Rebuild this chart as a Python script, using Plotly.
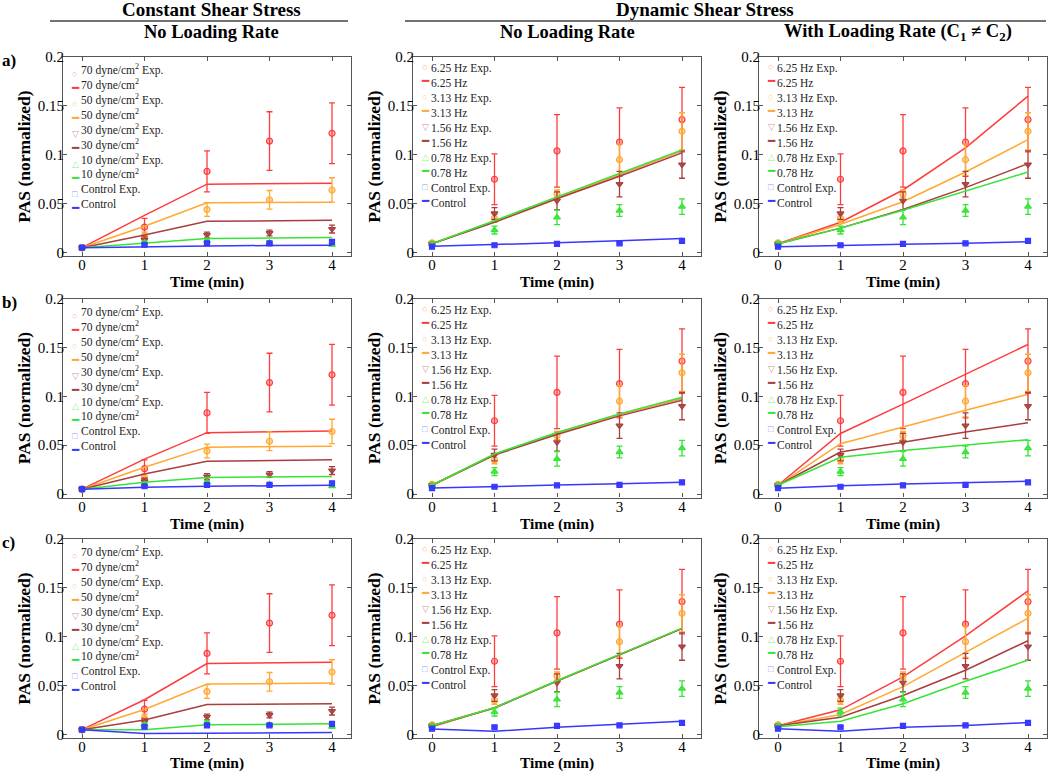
import plotly.graph_objects as go

# ---------------- data ----------------
time = [0, 1, 2, 3, 4]

const_names = ["70 dyne/cm<sup>2</sup>", "50 dyne/cm<sup>2</sup>", "30 dyne/cm<sup>2</sup>",
               "10 dyne/cm<sup>2</sup>", "Control"]
dyn_names = ["6.25 Hz", "3.13 Hz", "1.56 Hz", "0.78 Hz", "Control"]

# constant shear stress experiments (mean, error)
exp_c70 = [0.005, 0.026, 0.083, 0.114, 0.122]
err_c70 = [0.001, 0.009, 0.021, 0.030, 0.031]
exp_c50 = [0.005, 0.017, 0.044, 0.054, 0.064]
err_c50 = [0.001, 0.004, 0.007, 0.0095, 0.0125]
exp_c30 = [0.005, 0.013, 0.018, 0.020, 0.024]
err_c30 = [0.001, 0.003, 0.003, 0.003, 0.004]
exp_c10 = [0.005, 0.010, 0.012, 0.010, 0.008]
err_c10 = [0.001, 0.002, 0.002, 0.001, 0.001]
exp_cctl = [0.005, 0.008, 0.0095, 0.0095, 0.011]
err_cctl = [0.001, 0.0015, 0.0015, 0.0012, 0.0015]

# dynamic shear stress experiments (mean, error)
exp_d625 = [0.009, 0.075, 0.104, 0.113, 0.136]
err_d625 = [0.001, 0.026, 0.037, 0.035, 0.033]
exp_d313 = [0.010, 0.035, 0.060, 0.095, 0.124]
err_d313 = [0.001, 0.004, 0.004, 0.016, 0.019]
exp_d156 = [0.009, 0.040, 0.053, 0.070, 0.090]
err_d156 = [0.001, 0.006, 0.009, 0.013, 0.014]
exp_d078 = [0.009, 0.023, 0.036, 0.043, 0.047]
err_d078 = [0.001, 0.004, 0.0075, 0.006, 0.008]
exp_dctl = [0.006, 0.0075, 0.009, 0.0095, 0.012]
err_dctl = [0.001, 0.001, 0.001, 0.001, 0.0012]

# model curves: constant shear, no loading rate (rows a, b, c)
mod_a_const = [
    [0.005, 0.038, 0.070, 0.0705, 0.071],
    [0.005, 0.027, 0.051, 0.051, 0.0515],
    [0.005, 0.018, 0.032, 0.0325, 0.033],
    [0.005, 0.010, 0.0143, 0.0148, 0.0153],
    [0.005, 0.0062, 0.0068, 0.0072, 0.0075],
]
mod_b_const = [
    [0.005, 0.0357, 0.0628, 0.0635, 0.0645],
    [0.005, 0.0274, 0.048, 0.0485, 0.049],
    [0.005, 0.0206, 0.0336, 0.0343, 0.035],
    [0.005, 0.012, 0.017, 0.0175, 0.018],
    [0.005, 0.0069, 0.008, 0.0085, 0.009],
]
mod_c_const = [
    [0.005, 0.0356, 0.0726, 0.0733, 0.074],
    [0.005, 0.0257, 0.0517, 0.0522, 0.0527],
    [0.005, 0.015, 0.0308, 0.031, 0.0315],
    [0.005, 0.005, 0.010, 0.0105, 0.011],
    [0.005, 0.001, 0.0014, 0.0017, 0.002],
]
# model curves: dynamic shear, no loading rate
mod_a_dyn = [
    [0.009, 0.032, 0.056, 0.080, 0.104],
    [0.009, 0.032, 0.056, 0.080, 0.104],
    [0.009, 0.031, 0.055, 0.078, 0.102],
    [0.009, 0.0325, 0.057, 0.081, 0.105],
    [0.0065, 0.008, 0.010, 0.012, 0.0145],
]
mod_b_dyn = [
    [0.009, 0.0405, 0.0625, 0.0815, 0.098],
    [0.009, 0.0405, 0.0625, 0.0815, 0.098],
    [0.009, 0.040, 0.061, 0.080, 0.096],
    [0.009, 0.041, 0.063, 0.082, 0.099],
    [0.0063, 0.008, 0.0092, 0.0105, 0.012],
]
mod_c_dyn = [
    [0.008, 0.0274, 0.0548, 0.082, 0.1086],
    [0.009, 0.0274, 0.0548, 0.082, 0.1086],
    [0.009, 0.0272, 0.0546, 0.0818, 0.1084],
    [0.009, 0.0275, 0.055, 0.0822, 0.1088],
    [0.0058, 0.0034, 0.0075, 0.0103, 0.0137],
]
# model curves: dynamic shear, with loading rate
mod_a_rate = [
    [0.009, 0.031, 0.064, 0.107, 0.160],
    [0.009, 0.029, 0.052, 0.0824, 0.1155],
    [0.009, 0.025, 0.044, 0.0664, 0.091],
    [0.009, 0.025, 0.0433, 0.0627, 0.0824],
    [0.006, 0.0075, 0.0085, 0.0095, 0.011],
]
mod_b_rate = [
    [0.009, 0.062, 0.092, 0.1225, 0.153],
    [0.009, 0.0515, 0.0686, 0.0858, 0.102],
    [0.009, 0.043, 0.053, 0.0635, 0.073],
    [0.009, 0.0377, 0.0446, 0.0504, 0.0556],
    [0.006, 0.0086, 0.0103, 0.012, 0.013],
]
mod_c_rate = [
    [0.009, 0.0253, 0.059, 0.101, 0.147],
    [0.009, 0.0205, 0.049, 0.0836, 0.119],
    [0.009, 0.0178, 0.040, 0.0658, 0.096],
    [0.008, 0.0137, 0.0315, 0.0545, 0.076],
    [0.006, 0.0034, 0.0075, 0.0092, 0.0123],
]

y_tickvals = [0, 0.05, 0.1, 0.15, 0.2]
y_ticktext = ["0", "0.05", "0.1", "0.15", "0.2"]
x_tickvals = [0, 1, 2, 3, 4]

col_headers = ["No Loading Rate", "No Loading Rate", "With Loading Rate (C<sub>1</sub> \u2260 C<sub>2</sub>)"]
group_headers = ["Constant Shear Stress", "Dynamic Shear Stress"]
row_labels = ["a)", "b)", "c)"]

# ---------------- style ----------------
colors = ["rgb(255,60,60)", "rgb(255,168,50)", "rgb(168,62,62)", "rgb(55,228,55)", "rgb(55,55,255)"]
fills = ["rgba(255,60,60,0.35)", "rgba(255,168,50,0.45)", "rgba(168,62,62,0.85)",
         "rgba(55,228,55,0.85)", "rgba(55,55,255,0.9)"]
faint = ["rgba(255,60,60,0.55)", "rgba(255,168,50,0.6)", "rgba(168,62,62,0.6)",
         "rgba(55,228,55,0.6)", "rgba(55,55,255,0.6)"]
symbols = ["circle", "circle", "triangle-down", "triangle-up", "square"]
leg_syms = ["\u25CB", "\u25CB", "\u25BD", "\u25B3", "\u25A1"]
msize = [6, 6, 6, 6, 5]

SERIF = "Liberation Serif, Times New Roman, serif"
W, H = 1050, 772
col_left = [63.25, 413.25, 759.25]
col_w = 287.5
row_top = [57, 298.5, 539]
row_h = 199
AX = "#555555"

const_exp = [exp_c70, exp_c50, exp_c30, exp_c10, exp_cctl]
const_err = [err_c70, err_c50, err_c30, err_c10, err_cctl]
dyn_exp = [exp_d625, exp_d313, exp_d156, exp_d078, exp_dctl]
dyn_err = [err_d625, err_d313, err_d156, err_d078, err_dctl]
models = [
    [mod_a_const, mod_a_dyn, mod_a_rate],
    [mod_b_const, mod_b_dyn, mod_b_rate],
    [mod_c_const, mod_c_dyn, mod_c_rate],
]

fig = go.Figure()
annotations = []
shapes = []
layout_axes = {}

for r in range(3):
    for c in range(3):
        k = r * 3 + c + 1
        xa = "x" if k == 1 else f"x{k}"
        ya = "y" if k == 1 else f"y{k}"
        exps = const_exp if c == 0 else dyn_exp
        errs = const_err if c == 0 else dyn_err
        names = const_names if c == 0 else dyn_names
        mods = models[r][c]
        for i in range(5):
            fig.add_trace(go.Scatter(
                x=time, y=exps[i], mode="markers", xaxis=xa, yaxis=ya,
                name=names[i] + " Exp.", showlegend=False,
                marker=dict(symbol=symbols[i], size=msize[i], color=fills[i],
                            line=dict(color=colors[i], width=1.2)),
                error_y=dict(type="data", array=errs[i], color=colors[i],
                             thickness=1.3, width=3),
            ))
            fig.add_trace(go.Scatter(
                x=time, y=mods[i], mode="lines", xaxis=xa, yaxis=ya,
                name=names[i], showlegend=False,
                line=dict(color=colors[i], width=1.5),
            ))

        x0 = col_left[c] / W
        x1 = (col_left[c] + col_w) / W
        y1 = 1 - row_top[r] / H
        y0 = 1 - (row_top[r] + row_h) / H
        common = dict(showline=True, linecolor=AX, linewidth=1.3, mirror="ticks",
                      ticks="inside", ticklen=4, tickcolor=AX, tickwidth=1,
                      showgrid=False, zeroline=False, automargin=False,
                      tickfont=dict(family=SERIF, size=15, color="black"))
        layout_axes["xaxis" if k == 1 else f"xaxis{k}"] = dict(
            domain=[x0, x1], range=[-0.3, 4.3], tickvals=x_tickvals,
            anchor=ya, ticklabelstandoff=-5,
            title=dict(text="<b>Time (min)</b>", font=dict(family=SERIF, size=15.5, color="black"),
                       standoff=0),
            **common)
        layout_axes["yaxis" if k == 1 else f"yaxis{k}"] = dict(
            domain=[y0, y1], range=[-0.0035, 0.2], tickvals=y_tickvals, ticktext=y_ticktext,
            anchor=xa, ticklabelstandoff=-5,
            title=dict(text="<b>PAS (normalized)</b>", font=dict(family=SERIF, size=17.5, color="black"),
                       standoff=2),
            **common)

        # legend (drawn as text in the top-left corner of each panel)
        sym_lines = []
        txt_lines = []
        for i in range(5):
            sym_lines.append(f"<span style='color:{faint[i]};font-size:9px'>{leg_syms[i]}</span>")
            sym_lines.append(f"<span style='color:{colors[i]}'>\u2501</span>")
            txt_lines.append(names[i] + " Exp.")
            txt_lines.append(names[i])
        ly = 1 - (row_top[r] + 3) / H
        # superscripts make the text column start lower; offset the symbol column to match
        sym_dy = 7 if c == 0 else 0
        annotations.append(dict(
            xref="paper", yref="paper", x=(col_left[c] + 6) / W, y=ly - sym_dy / H,
            xanchor="left", yanchor="top", align="left", showarrow=False,
            text="<br>".join(sym_lines), font=dict(family=SERIF, size=11.5, color="black")))
        annotations.append(dict(
            xref="paper", yref="paper", x=(col_left[c] + 16) / W, y=ly,
            xanchor="left", yanchor="top", align="left", showarrow=False,
            text="<br>".join(txt_lines), font=dict(family=SERIF, size=11.5, color="#222222")))

# column headers
hdr_x = [211, 567, 898]
for c in range(3):
    annotations.append(dict(xref="paper", yref="paper", x=hdr_x[c] / W, y=1 - 32 / H,
                            xanchor="center", yanchor="middle", showarrow=False,
                            text=f"<b>{col_headers[c]}</b>",
                            font=dict(family=SERIF, size=18.5, color="black")))
grp_x = [211, 705]
for g in range(2):
    annotations.append(dict(xref="paper", yref="paper", x=grp_x[g] / W, y=1 - 9 / H,
                            xanchor="center", yanchor="middle", showarrow=False,
                            text=f"<b>{group_headers[g]}</b>",
                            font=dict(family=SERIF, size=19, color="black")))
shapes.append(dict(type="line", xref="paper", yref="paper", x0=50 / W, x1=348 / W,
                   y0=1 - 21 / H, y1=1 - 21 / H, line=dict(color="#444444", width=1.5)))
shapes.append(dict(type="line", xref="paper", yref="paper", x0=405 / W, x1=1046 / W,
                   y0=1 - 21 / H, y1=1 - 21 / H, line=dict(color="#444444", width=1.5)))

row_lab_y = [60, 302, 542]
for r in range(3):
    annotations.append(dict(xref="paper", yref="paper", x=0, y=1 - row_lab_y[r] / H,
                            xanchor="left", yanchor="middle", showarrow=False,
                            text=f"<b>{row_labels[r]}</b>",
                            font=dict(family=SERIF, size=17, color="black")))

fig.update_layout(
    width=W, height=H, margin=dict(l=0, r=0, t=0, b=0),
    paper_bgcolor="white", plot_bgcolor="white",
    showlegend=False, annotations=annotations, shapes=shapes,
    **layout_axes,
)

# remove the default 8px page margin so the figure fills the window exactly
fig.write_html("out.html", config={"displayModeBar": False},
               post_script="document.body.style.margin='0px';")
